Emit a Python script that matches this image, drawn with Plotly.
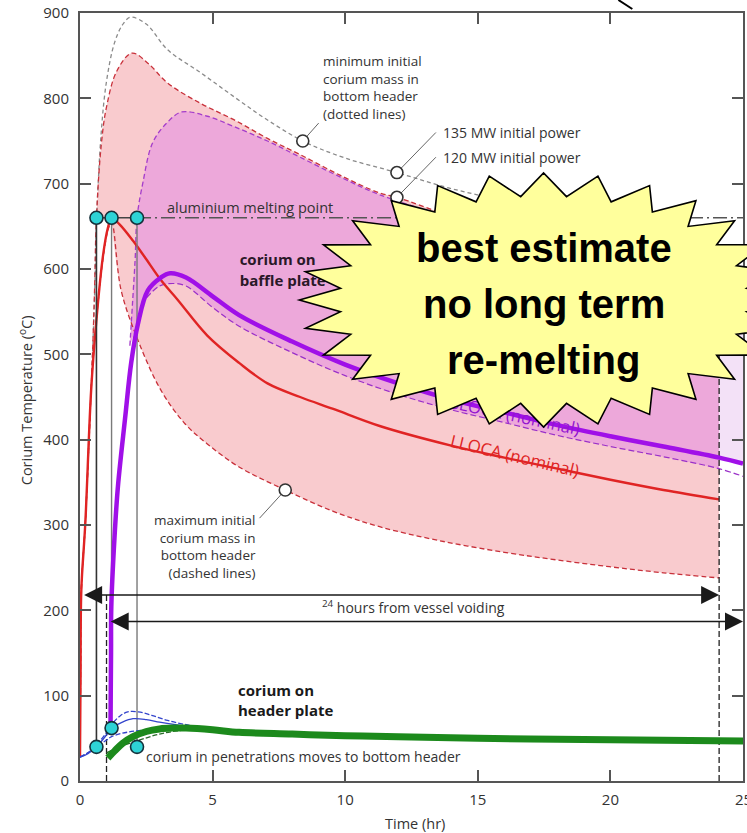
import numpy as np
import plotly.graph_objects as go

# ---------------- data (time in hours, temperature in deg C) ----------------
# minimum initial corium mass in bottom header, 135 MW initial power
min135_t = [0.0, 0.02, 0.05, 0.2, 0.42, 0.55, 0.63, 0.8, 1.0, 1.3, 1.6, 1.9, 2.5, 3.3, 4.55, 5.8,
            7.0, 8.4, 10.0, 11.95, 13.9, 16.0, 18.0, 20.0, 22.0, 24.1]
min135_T = [28, 120, 224, 302, 458, 570, 660, 760, 820, 865, 886, 895, 887, 857, 830, 802,
            776, 750, 730, 713, 695, 680, 666, 654, 643, 633]

# LLOCA band: minimum initial corium mass (upper) / maximum (lower) / nominal
llup_t = [0.0, 0.02, 0.05, 0.2, 0.42, 0.54, 0.62, 0.8, 1.0, 1.39, 1.96, 2.6, 3.3, 4.55, 5.8, 7.07,
          8.3, 9.8, 11.3, 11.95, 14.0, 16.0, 18.0, 20.0, 22.0, 24.1]
llup_T = [28, 120, 224, 302, 458, 565, 660, 745, 790, 832, 853, 840, 818, 794, 775, 753,
          734, 710, 689, 684, 662, 645, 630, 617, 605, 595]
lllo_t = [0.0, 0.02, 0.05, 0.2, 0.42, 0.61, 0.86, 1.05, 1.19, 1.55, 2.18, 3.05, 3.95, 4.8, 6.0,
          7.74, 9.55, 11.3, 13.5, 16.0, 18.0, 20.0, 22.0, 24.1]
lllo_T = [28, 120, 224, 302, 458, 537, 610, 645, 655, 575, 517, 458, 419, 395, 368,
          341, 316, 298, 282, 268, 259, 251, 244, 238]
llnom_t = [0.0, 0.02, 0.05, 0.2, 0.42, 0.61, 0.86, 1.05, 1.19, 1.5, 2.0, 2.44, 3.05, 3.68, 4.8,
           6.0, 7.07, 8.3, 9.55, 11.3, 14.0, 16.0, 18.0, 20.0, 22.0, 24.1]
llnom_T = [28, 120, 224, 302, 458, 537, 614, 648, 660, 652, 633, 614, 587, 564, 522,
           490, 466, 450, 436, 416, 393, 379, 366, 353, 341, 330]

# SLOCA band: minimum initial corium mass (upper) / maximum (lower) / nominal
slup_t = [1.88, 1.98, 2.08, 2.15, 2.37, 2.74, 3.27, 3.83, 4.8, 5.8, 7.07, 8.3, 9.8, 11.3, 14.0,
          16.0, 18.0, 20.0, 22.0, 24.1]
slup_T = [510, 560, 612, 660, 701, 748, 771, 784, 779, 767, 750, 731, 708, 687, 660,
          643, 628, 615, 603, 593]
sllo_t = [2.5, 3.0, 3.5, 4.0, 5.0, 6.0, 8.0, 10.0, 12.0, 14.0, 16.0, 18.0, 20.0, 22.0, 24.1, 25.0]
sllo_T = [566, 580, 583, 580, 555, 533, 502, 475, 453, 435, 420, 405, 392, 380, 366, 357]
slnom_t = [1.15, 1.17, 1.18, 1.3, 1.43, 1.7, 1.93, 2.18, 2.56, 3.05, 3.4, 4.0, 5.0, 6.0, 8.0,
           10.0, 12.0, 14.0, 16.0, 18.0, 20.0, 22.0, 24.1, 25.0]
slnom_T = [65, 150, 204, 285, 345, 425, 490, 535, 575, 590, 595, 590, 568, 546, 515,
           488, 466, 447, 432, 417, 404, 392, 379, 372]

# corium on header plate
hdr_t = [1.05, 1.3, 1.6, 2.0, 2.5, 3.0, 3.5, 4.0, 5.0, 6.0, 8.0, 10.0, 12.0, 15.0, 18.0, 21.0, 25.0]
hdr_T = [27, 35, 44, 52, 58, 61, 62, 62, 60, 57, 55, 53, 52, 50, 49, 48, 47]
hdr2_t = [1.0, 1.5, 2.15, 3.0, 4.0, 5.0]
hdr2_T = [33, 40, 47, 55, 60, 61]

# corium in penetrations
pen_hi_t = [0.0, 0.3, 0.62, 1.0, 1.19, 1.5, 1.8, 2.2, 2.7, 3.3, 4.0, 4.7]
pen_hi_T = [28, 33, 42, 57, 66, 76, 81, 81, 77, 71, 66, 63]
pen_mid_t = [0.0, 0.3, 0.62, 1.0, 1.19, 1.6, 2.0, 2.5, 3.0, 3.6, 4.3, 5.0]
pen_mid_T = [28, 32, 40, 54, 62, 69, 73, 72, 69, 66, 63, 62]
pen_lo_t = [0.0, 0.4, 0.62, 1.0, 1.19, 1.6, 2.2, 3.0, 4.0, 5.0]
pen_lo_T = [28, 35, 40, 48, 52, 56, 59, 61, 62, 62]

# event markers
event_t = [0.62, 1.19, 2.15]
event_melt_T = [660, 660, 660]
event_low_T = [40, 62, 40]
al_melt_T = 660
voiding_t = [1.0, 24.1]
arrow_T = [218, 187]
arrow_from = [0.1, 1.1]
arrow_to = [24.1, 25.0]

x_ticks = [0, 5, 10, 15, 20, 25]
y_ticks = list(range(0, 901, 100))

# ---------------- styling ----------------
FONT = "Open Sans, Noto Sans, sans-serif"
TXT = "#333333"
SALMON = "#F9CBCE"
MAGENTA = "#EDA8DA"
LAVENDER = "#F3E1F7"
RED = "#E02424"
RED_D = "#C8303A"
PURPLE = "#A010E8"
PURPLE_D = "#A43CCB"
GREEN = "#1C8A1C"
BLUE = "#3344CC"

fig = go.Figure()


def line(x, y, color, width, dash="solid", shape="spline", smoothing=1.0):
    fig.add_trace(go.Scatter(x=x, y=y, mode="lines", hoverinfo="skip", showlegend=False,
                             line=dict(color=color, width=width, dash=dash, shape=shape,
                                       smoothing=smoothing)))


def after(ts, vs, t0, t1=1e9):
    keep = [i for i, t in enumerate(ts) if t0 - 1e-9 <= t <= t1 + 1e-9]
    return [ts[i] for i in keep], [vs[i] for i in keep]


def band(lo, up, color):
    """Shade between two smoothed bounds (lower drawn first, upper fills to it)."""
    fig.add_trace(go.Scatter(x=lo[0], y=lo[1], mode="lines", hoverinfo="skip", showlegend=False,
                             line=dict(width=0, shape="spline", smoothing=1.0)))
    fig.add_trace(go.Scatter(x=up[0], y=up[1], mode="lines", fill="tonexty", fillcolor=color,
                             hoverinfo="skip", showlegend=False,
                             line=dict(width=0, shape="spline", smoothing=1.0)))


# shaded bands (from the moment each bound reaches the aluminium melting point)
band(after(lllo_t, lllo_T, event_t[1]), after(llup_t, llup_T, event_t[0]), SALMON)
band(after(sllo_t, sllo_T, 0, voiding_t[1]), (slup_t, slup_T), MAGENTA)
tail_t, tail_T = after(slnom_t, slnom_T, voiding_t[1])
band((tail_t, tail_T), (tail_t, [slup_T[-1]] * len(tail_t)), LAVENDER)

# band boundaries
line(min135_t, min135_T, "#8a8a8a", 1.3, dash="4px,3px")
line(llup_t, llup_T, RED_D, 1.3, dash="5px,3px")
line(slup_t, slup_T, PURPLE_D, 1.3, dash="5px,3px")
line(lllo_t, lllo_T, RED_D, 1.3, dash="5px,3px")
line(sllo_t, sllo_T, "#9a30c8", 1.2, dash="6px,3px")
line(llnom_t, llnom_T, RED, 2.4)

# event verticals
fig.add_trace(go.Scatter(x=[event_t[0]] * 2, y=[event_low_T[0], event_melt_T[0]], mode="lines",
                         line=dict(color="#333333", width=1.6), hoverinfo="skip", showlegend=False))
for i in (1, 2):
    fig.add_trace(go.Scatter(x=[event_t[i]] * 2, y=[event_low_T[i], event_melt_T[i]], mode="lines",
                             line=dict(color="#7a7a7a", width=1.4), hoverinfo="skip", showlegend=False))
fig.add_trace(go.Scatter(x=[voiding_t[0], voiding_t[0], None, voiding_t[1], voiding_t[1]],
                         y=[0, arrow_T[0], None, 0, slup_T[-1]], mode="lines",
                         line=dict(color="#222222", width=1.3, dash="6px,3px"),
                         hoverinfo="skip", showlegend=False))
# aluminium melting point
fig.add_trace(go.Scatter(x=[event_t[0], event_t[2]], y=[al_melt_T] * 2, mode="lines",
                         line=dict(color="#444444", width=1.5), hoverinfo="skip", showlegend=False))
fig.add_trace(go.Scatter(x=[event_t[2], x_ticks[-1]], y=[al_melt_T] * 2, mode="lines",
                         line=dict(color="#555555", width=1.5, dash="14px,4px,2px,4px"),
                         hoverinfo="skip", showlegend=False))

# header plate and penetrations
line(pen_hi_t, pen_hi_T, BLUE, 1.3, dash="5px,2px")
line(pen_mid_t, pen_mid_T, BLUE, 1.3)
line(pen_lo_t, pen_lo_T, BLUE, 1.3, dash="5px,2px")
line(hdr2_t, hdr2_T, "#2a6a2a", 1.3, dash="5px,2px")
line(hdr_t, hdr_T, GREEN, 7)

# SLOCA nominal
line(slnom_t, slnom_T, PURPLE, 4.5)

# leader lines and pointer circles
leaders = [((8.4, 750), (9.0, 771)), ((11.95, 713), (13.42, 760)), ((11.95, 684), (13.42, 731)),
           ((7.74, 341), (6.77, 308))]
for (p0, p1) in leaders:
    fig.add_trace(go.Scatter(x=[p0[0], p1[0]], y=[p0[1], p1[1]], mode="lines",
                             line=dict(color="#666666", width=1), hoverinfo="skip", showlegend=False))
fig.add_trace(go.Scatter(x=[p[0][0] for p in leaders], y=[p[0][1] for p in leaders], mode="markers",
                         marker=dict(size=12, color="white", line=dict(color="#333333", width=1.6)),
                         hoverinfo="skip", showlegend=False))

# event points
fig.add_trace(go.Scatter(x=event_t + event_t, y=event_melt_T + event_low_T, mode="markers",
                         marker=dict(size=13, color="#2ED3D6", line=dict(color="#15303a", width=1.6)),
                         hoverinfo="skip", showlegend=False))

# labels that sit beneath the starburst
fig.add_trace(go.Scatter(x=[6.02, 6.02], y=[609, 585], mode="text",
                         text=["<b>corium on</b>", "<b>baffle plate</b>"], textposition="middle right",
                         textfont=dict(family=FONT, size=15, color="#2a1828"),
                         hoverinfo="skip", showlegend=False))

ann = []


def label(text, x, y, size=14, color=TXT, xanchor="left", angle=0, bold=False):
    ann.append(dict(x=x, y=y, xref="x", yref="y", text=f"<b>{text}</b>" if bold else text,
                    showarrow=False, xanchor=xanchor, yanchor="middle", textangle=angle,
                    align=xanchor if xanchor != "center" else "center",
                    font=dict(family=FONT, size=size, color=color)))


label("minimum initial<br>corium mass in<br>bottom header<br>(dotted lines)", 9.1, 812.7, size=13.5)
label("135 MW initial power", 13.6, 760.5)
label("120 MW initial power", 13.6, 731)
label("aluminium melting point", 3.2, 671.5, size=14.5)
label("maximum initial<br>corium mass in<br>bottom header<br>(dashed lines)", 6.72, 274.8,
      size=13.5, xanchor="right")
label("<sup>24</sup> hours from vessel voiding", 9.05, 204)
label("corium on<br>header plate", 5.9, 95.5, size=15, color="#1a1a1a", bold=True)
label("corium in penetrations moves to bottom header", 2.42, 29.3)
label("LLOCA (nominal)", 16.39, 382, size=17, color=RED, xanchor="center", angle=13.5)

# last x tick label sits on the page edge
ann.append(dict(x=x_ticks[-1], y=0, xref="x", yref="paper", text=str(x_ticks[-1]), showarrow=False,
                xanchor="center", yanchor="top", yshift=-6, font=dict(family=FONT, size=15, color=TXT)))

# 24 hour arrows
for yv, a, b in zip(arrow_T, arrow_from, arrow_to):
    ann.append(dict(x=b, y=yv, ax=a, ay=yv, xref="x", yref="y", axref="x", ayref="y", text="",
                    showarrow=True, arrowhead=2, startarrowhead=2, arrowside="end+start",
                    arrowwidth=1.5, arrowsize=2.4, startarrowsize=2.4, arrowcolor="#1a1a1a",
                    standoff=0, startstandoff=0))

# axis titles
ann.append(dict(x=(416 - 80) / 665, y=(781 - 823) / 768, xref="paper", yref="paper", text="Time (hr)",
                showarrow=False, xanchor="center", yanchor="middle",
                font=dict(family=FONT, size=14.5, color=TXT)))
ann.append(dict(x=(25 - 80) / 665, y=0.496, xref="paper", yref="paper",
                text="Corium Temperature (<sup>o</sup>C)", showarrow=False, textangle=-90,
                xanchor="center", yanchor="middle", font=dict(family=FONT, size=14.5, color=TXT)))


# starburst call-out
def to_paper(px, py):
    return (px - 80) / 665, (781 - py) / 768


cx, cy, n = 545, 300, 28
pts = []
for k in range(2 * n):
    th = np.pi + np.pi * k / n
    rx, ry = (245, 127) if k % 2 == 0 else (205, 104)
    pts.append(to_paper(cx + rx * np.cos(th), cy + ry * np.sin(th)))
burst = "M" + " L".join(f"{x:.4f},{y:.4f}" for x, y in pts) + " Z"

shapes = [
    # rotated SLOCA label, partly covered by the starburst
    dict(type="line", xref="x", yref="y", x0=14.5, y0=440, x1=18.3, y1=415,
         line=dict(color="rgba(0,0,0,0)", width=0),
         label=dict(text="SLOCA (nominal)", textposition="middle",
                    yanchor="middle", font=dict(family=FONT, size=17, color="#9414D0"))),
    dict(type="path", xref="paper", yref="paper", path=burst, fillcolor="#FFFF9C",
         line=dict(color="black", width=1.6), layer="above"),
    dict(type="line", xref="paper", yref="paper", x0=to_paper(620, 0)[0], y0=to_paper(620, 0)[1],
         x1=to_paper(634, 9)[0], y1=to_paper(634, 9)[1], line=dict(color="black", width=2)),
]

for s, ypx in zip(["best estimate", "no long term", "re-melting"], [248, 304, 360]):
    ann.append(dict(x=to_paper(545, ypx)[0], y=to_paper(545, ypx)[1], xref="paper", yref="paper",
                    text=f"<b>{s}</b>", showarrow=False, xanchor="center", yanchor="middle",
                    font=dict(family="Liberation Sans, Arial, sans-serif", size=40, color="black")))

axis_common = dict(showgrid=False, zeroline=False, showline=True, linecolor="#555555", linewidth=2,
                   mirror="ticks", ticks="inside", ticklen=11, tickwidth=1.5, tickcolor="#555555",
                   tickfont=dict(family=FONT, size=15, color=TXT))
fig.update_layout(
    width=747, height=833, margin=dict(l=80, r=2, t=13, b=52),
    paper_bgcolor="white", plot_bgcolor="white",
    xaxis=dict(range=[0, 25], tickvals=x_ticks, ticktext=[str(v) for v in x_ticks[:-1]] + [""],
               ticklabelstandoff=4, **axis_common),
    yaxis=dict(range=[0, 900], tickvals=y_ticks, ticklabelstandoff=6, **axis_common),
    annotations=ann, shapes=shapes,
)

fig.write_html("out.html")
